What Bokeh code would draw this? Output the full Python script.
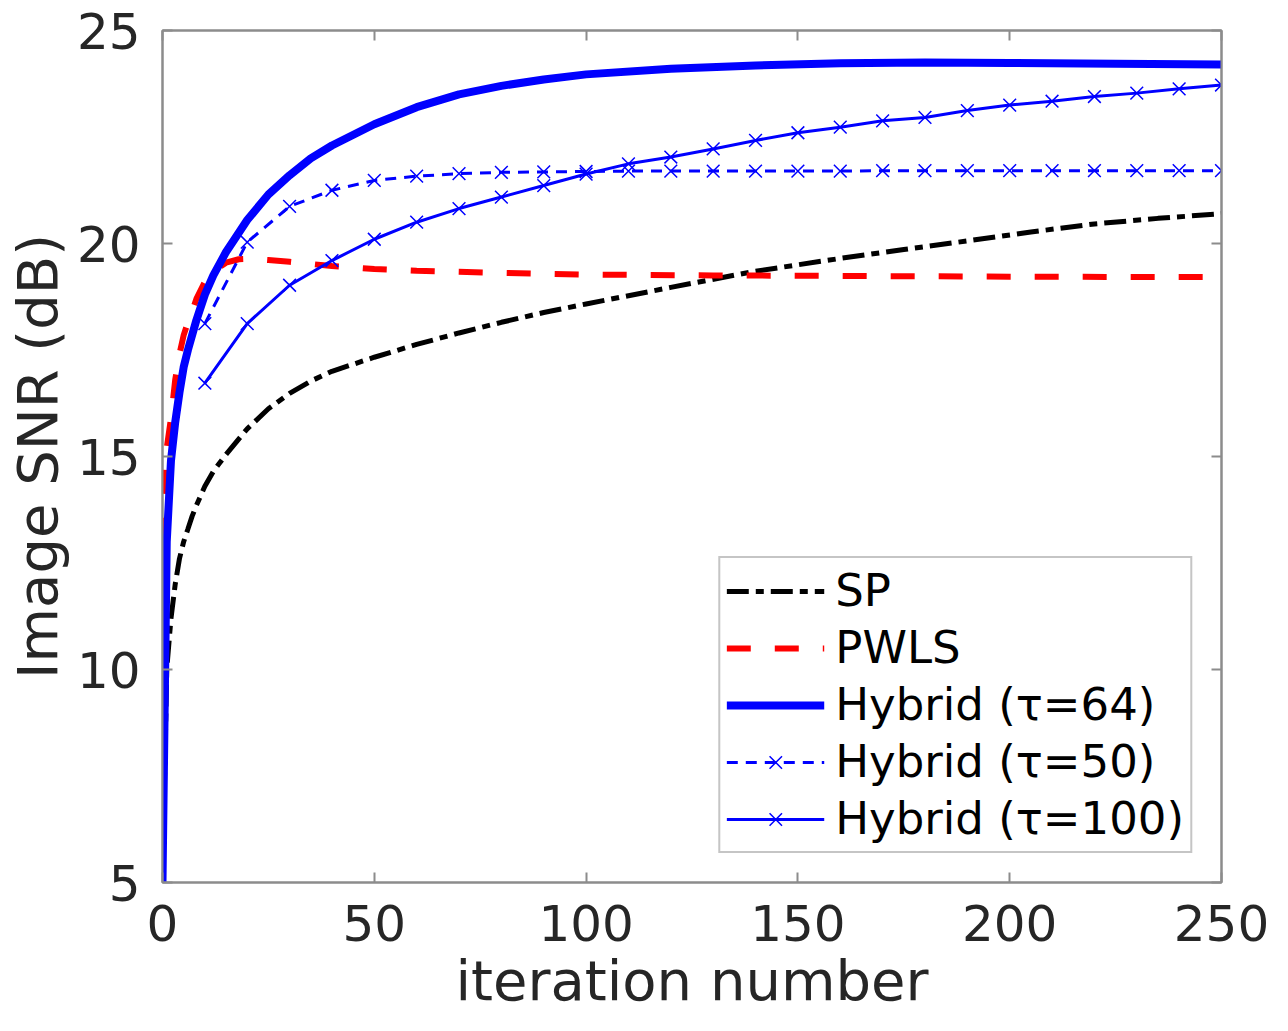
from bokeh.plotting import figure
from bokeh.models import Range1d, LinearAxis, FixedTicker, Legend, LegendItem
from bokeh.embed import file_html
from bokeh.resources import INLINE

# ---------------- data ----------------
x_ticks = [0, 50, 100, 150, 200, 250]
y_ticks = [5, 10, 15, 20, 25]
x_title = "iteration number"
y_title = "Image SNR (dB)"

sp_iter = [0, 1, 2, 3, 4, 5, 6, 7, 8, 10, 12, 15, 20, 25, 30, 35, 40, 50, 60, 70, 80, 90, 100,
           120, 140, 160, 175, 190, 205, 220, 235, 250]
sp_val = [5.0, 10.0, 11.2, 12.0, 12.6, 13.0, 13.3, 13.6, 13.85, 14.3, 14.65, 15.05, 15.65, 16.12,
          16.48, 16.77, 17.0, 17.33, 17.63, 17.9, 18.15, 18.38, 18.58, 18.97, 19.35, 19.65,
          19.86, 20.06, 20.27, 20.46, 20.59, 20.7]

pwls_iter = [0, 1, 2, 3, 4, 5, 6, 7, 8, 10, 12, 15, 18, 21, 25, 30, 40, 50, 60, 80, 100,
             130, 160, 200, 250]
pwls_val = [13.0, 15.2, 15.9, 16.8, 17.4, 17.85, 18.15, 18.4, 18.7, 19.1, 19.35, 19.55, 19.63,
            19.64, 19.61, 19.57, 19.47, 19.4, 19.36, 19.31, 19.27, 19.25, 19.24, 19.22, 19.21]

h64_iter = [0, 1, 2, 3, 4, 5, 6, 8, 10, 12, 15, 17, 20, 25, 30, 35, 40, 50, 60, 70, 80, 90,
            100, 120, 140, 160, 180, 200, 225, 250]
h64_val = [5.0, 13.0, 14.9, 15.8, 16.5, 17.1, 17.5, 18.2, 18.8, 19.25, 19.8, 20.1, 20.55, 21.15,
           21.6, 22.0, 22.3, 22.8, 23.2, 23.5, 23.7, 23.85, 23.97, 24.1, 24.18, 24.23, 24.25,
           24.24, 24.22, 24.2]

hyb_iter = [10, 20, 30, 40, 50, 60, 70, 80, 90, 100, 110, 120, 130, 140, 150, 160, 170, 180,
            190, 200, 210, 220, 230, 240, 250]
h50_val = [18.12, 20.03, 20.87, 21.25, 21.48, 21.58, 21.64, 21.67, 21.68, 21.69, 21.7, 21.7,
           21.7, 21.7, 21.7, 21.7, 21.71, 21.71, 21.71, 21.71, 21.71, 21.71, 21.71, 21.71, 21.71]
h100_val = [16.72, 18.12, 19.02, 19.6, 20.1, 20.5, 20.82, 21.09, 21.36, 21.63, 21.87, 22.03,
            22.22, 22.42, 22.6, 22.73, 22.88, 22.96, 23.12, 23.25, 23.34, 23.45, 23.53, 23.63,
            23.72]

labels = ["SP", "PWLS", "Hybrid (\u03c4=64)", "Hybrid (\u03c4=50)", "Hybrid (\u03c4=100)"]

# ---------------- figure ----------------
FONT = "DejaVu Sans"
AX_COLOR = "#8c8c8c"
TXT_COLOR = "#262626"

p = figure(frame_width=1059, frame_height=852,
           x_range=Range1d(x_ticks[0], x_ticks[-1]), y_range=Range1d(y_ticks[0], y_ticks[-1]),
           output_backend="svg", toolbar_location=None,
           min_border_left=162, min_border_right=60, min_border_top=30, min_border_bottom=149,
           x_axis_label=x_title, y_axis_label=y_title)
p.grid.visible = False
p.outline_line_color = AX_COLOR
p.outline_line_width = 2
p.background_fill_color = "white"
p.border_fill_color = "white"

for ax, ticks in ((p.xaxis[0], x_ticks), (p.yaxis[0], y_ticks)):
    ax.ticker = FixedTicker(ticks=ticks)
    ax.major_tick_in = 10
    ax.major_tick_out = 0
    ax.minor_tick_line_color = None
    ax.axis_line_color = AX_COLOR
    ax.axis_line_width = 2
    ax.major_tick_line_color = AX_COLOR
    ax.major_tick_line_width = 2
    ax.major_label_text_font = FONT
    ax.major_label_text_font_size = "50px"
    ax.major_label_text_color = TXT_COLOR
    ax.axis_label_text_font = FONT
    ax.axis_label_text_font_size = "56px"
    ax.axis_label_text_font_style = "normal"
    ax.axis_label_text_color = TXT_COLOR

p.xaxis[0].major_label_standoff = 22
p.xaxis[0].axis_label_standoff = 4
p.yaxis[0].major_label_standoff = 22
p.yaxis[0].axis_label_standoff = 4

for side, ticks in (("above", x_ticks), ("right", y_ticks)):
    ax = LinearAxis(ticker=FixedTicker(ticks=ticks))
    ax.major_label_overrides = {t: "" for t in ticks}
    ax.major_label_text_font_size = "1px"
    ax.major_label_standoff = 0
    ax.major_tick_in = 10
    ax.major_tick_out = 0
    ax.minor_tick_line_color = None
    ax.axis_line_color = AX_COLOR
    ax.axis_line_width = 2
    ax.major_tick_line_color = AX_COLOR
    ax.major_tick_line_width = 2
    p.add_layout(ax, side)

BLUE = "#0000ff"
r_sp = p.line(sp_iter, sp_val, line_color="black", line_width=5, line_dash="22 7 8 7")
r_pwls = p.line(pwls_iter, pwls_val, line_color="#ff0000", line_width=6, line_dash="24 24")
r_h64 = p.line(h64_iter, h64_val, line_color=BLUE, line_width=8)
r_h50 = p.line(hyb_iter, h50_val, line_color=BLUE, line_width=3, line_dash="11 8")
r_h50m = p.scatter(hyb_iter, h50_val, marker="x", size=18, line_color=BLUE, line_width=1.5)
r_h100 = p.line(hyb_iter, h100_val, line_color=BLUE, line_width=3)
r_h100m = p.scatter(hyb_iter, h100_val, marker="x", size=18, line_color=BLUE, line_width=1.5)

legend = Legend(items=[
    LegendItem(label=labels[0], renderers=[r_sp]),
    LegendItem(label=labels[1], renderers=[r_pwls]),
    LegendItem(label=labels[2], renderers=[r_h64]),
    LegendItem(label=labels[3], renderers=[r_h50, r_h50m]),
    LegendItem(label=labels[4], renderers=[r_h100, r_h100m]),
], location="bottom_right")
legend.label_text_font = FONT
legend.label_text_font_size = "45px"
legend.label_text_color = "black"
legend.glyph_width = 98
legend.glyph_height = 44
legend.label_standoff = 11
legend.spacing = 4
legend.padding = 6
legend.margin = 29
legend.border_line_color = AX_COLOR
legend.border_line_width = 2
legend.background_fill_color = "white"
legend.background_fill_alpha = 1.0
p.add_layout(legend)

open("out.html", "w").write(file_html(p, INLINE))
